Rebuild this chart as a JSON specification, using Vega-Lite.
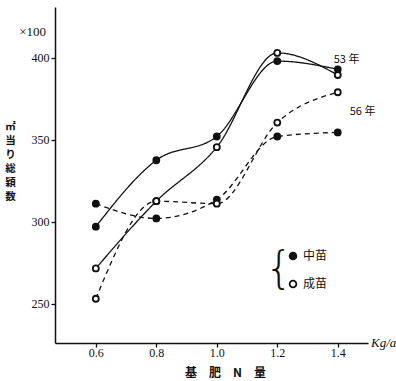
{
  "$schema": "https://vega.github.io/schema/vega-lite/v6.json",
  "width": 313,
  "height": 336,
  "autosize": {"type": "none"},
  "padding": {"left": 55, "top": 7, "right": 28, "bottom": 38},
  "background": "white",
  "config": {"view": {"stroke": null}, "font": "Liberation Serif"},
  "data": {
    "values": [
      {"N": 0.6, "v": 297, "year": "53 年", "type": "中苗", "series": "53中苗"},
      {"N": 0.8, "v": 337.5, "year": "53 年", "type": "中苗", "series": "53中苗"},
      {"N": 1.0, "v": 352, "year": "53 年", "type": "中苗", "series": "53中苗"},
      {"N": 1.2, "v": 398, "year": "53 年", "type": "中苗", "series": "53中苗"},
      {"N": 1.4, "v": 393, "year": "53 年", "type": "中苗", "series": "53中苗"},
      {"N": 0.6, "v": 271.5, "year": "53 年", "type": "成苗", "series": "53成苗"},
      {"N": 0.8, "v": 312.5, "year": "53 年", "type": "成苗", "series": "53成苗"},
      {"N": 1.0, "v": 345.5, "year": "53 年", "type": "成苗", "series": "53成苗"},
      {"N": 1.2, "v": 403, "year": "53 年", "type": "成苗", "series": "53成苗"},
      {"N": 1.4, "v": 389.5, "year": "53 年", "type": "成苗", "series": "53成苗"},
      {"N": 0.6, "v": 311, "year": "56 年", "type": "中苗", "series": "56中苗"},
      {"N": 0.8, "v": 302, "year": "56 年", "type": "中苗", "series": "56中苗"},
      {"N": 1.0, "v": 313.5, "year": "56 年", "type": "中苗", "series": "56中苗"},
      {"N": 1.2, "v": 352, "year": "56 年", "type": "中苗", "series": "56中苗"},
      {"N": 1.4, "v": 354.5, "year": "56 年", "type": "中苗", "series": "56中苗"},
      {"N": 0.6, "v": 253, "year": "56 年", "type": "成苗", "series": "56成苗"},
      {"N": 0.8, "v": 312.5, "year": "56 年", "type": "成苗", "series": "56成苗"},
      {"N": 1.0, "v": 311, "year": "56 年", "type": "成苗", "series": "56成苗"},
      {"N": 1.2, "v": 360.5, "year": "56 年", "type": "成苗", "series": "56成苗"},
      {"N": 1.4, "v": 379, "year": "56 年", "type": "成苗", "series": "56成苗"}
    ]
  },
  "encoding": {
    "x": {
      "field": "N",
      "type": "quantitative",
      "scale": {"domain": [0.465, 1.5], "nice": false, "zero": false},
      "axis": {
        "values": [0.6, 0.8, 1.0, 1.2, 1.4],
        "format": ".1f",
        "grid": false,
        "tickSize": 4,
        "labelPadding": 0,
        "domainColor": "#111",
        "domainWidth": 1.5,
        "tickColor": "#111",
        "tickWidth": 1.3,
        "labelFont": "Liberation Serif",
        "labelFontSize": 12,
        "labelColor": "#111",
        "title": "基　肥　N　量",
        "titleFont": "Noto Sans CJK JP",
        "titleFontSize": 12,
        "titleFontWeight": "bold",
        "titleColor": "#111",
        "titlePadding": 9,
        "titleX": 170,
        "titleAlign": "center"
      }
    },
    "y": {
      "field": "v",
      "type": "quantitative",
      "scale": {"domain": [226, 431], "nice": false, "zero": false},
      "axis": {
        "values": [250, 300, 350, 400],
        "format": "d",
        "grid": false,
        "tickSize": 4,
        "labelPadding": 2,
        "domainColor": "#111",
        "domainWidth": 1.5,
        "tickColor": "#111",
        "tickWidth": 1.3,
        "labelFont": "Liberation Serif",
        "labelFontSize": 12,
        "labelColor": "#111",
        "title": ["㎡", "当", "り", "総", "穎", "数"],
        "titleFont": "Noto Sans CJK JP",
        "titleFontSize": 10.5,
        "titleFontWeight": "bold",
        "titleColor": "#111",
        "titleAngle": 0,
        "titleAlign": "center",
        "titleBaseline": "top",
        "titleLineHeight": 14,
        "titleX": -45,
        "titleY": 114
      }
    }
  },
  "layer": [
    {
      "mark": {"type": "line", "interpolate": "monotone", "color": "#111", "strokeWidth": 1.3},
      "encoding": {
        "detail": {"field": "series"},
        "strokeDash": {
          "field": "year",
          "type": "nominal",
          "scale": {"domain": ["53 年", "56 年"], "range": [[1, 0], [5, 4]]},
          "legend": null
        }
      }
    },
    {
      "mark": {"type": "point", "shape": "circle", "filled": true, "stroke": "#111", "strokeWidth": 1.8, "size": 36, "opacity": 1},
      "encoding": {
        "fill": {
          "field": "type",
          "type": "nominal",
          "scale": {"domain": ["中苗", "成苗"], "range": ["#111", "#ffffff"]},
          "legend": {
            "orient": "none",
            "legendX": 210,
            "legendY": 243,
            "title": "{",
            "titleOrient": "left",
            "titleFont": "DejaVu Sans",
            "titleFontSize": 44,
            "titleFontWeight": 200,
            "titleColor": "#111",
            "titlePadding": -6,
            "labelFont": "Noto Sans CJK JP",
            "labelFontSize": 12,
            "labelColor": "#111",
            "symbolType": "circle",
            "symbolStrokeColor": "#111",
            "symbolStrokeWidth": 1.8,
            "symbolSize": 45,
            "rowPadding": 14
          }
        }
      }
    },
    {
      "transform": [{"filter": "datum.N == 1.4 && datum.series == '53中苗'"}],
      "mark": {"type": "text", "align": "left", "baseline": "middle", "dx": -4, "dy": -9, "font": "Noto Sans CJK JP", "fontSize": 11, "color": "#111"},
      "encoding": {"text": {"field": "year"}}
    },
    {
      "transform": [{"filter": "datum.N == 1.4 && datum.series == '56中苗'"}],
      "mark": {"type": "text", "align": "left", "baseline": "middle", "dx": 12, "dy": -20, "font": "Noto Sans CJK JP", "fontSize": 11, "color": "#111"},
      "encoding": {"text": {"field": "year"}}
    },
    {
      "transform": [{"filter": "datum.N == 0.6 && datum.series == '53中苗'"}],
      "mark": {"type": "text", "align": "right", "baseline": "middle", "dx": -9, "font": "Liberation Serif", "fontSize": 13, "color": "#111"},
      "encoding": {"x": {"datum": 0.465}, "y": {"datum": 416}, "text": {"value": "×100"}}
    },
    {
      "transform": [{"filter": "datum.N == 0.6 && datum.series == '53中苗'"}],
      "mark": {"type": "text", "align": "left", "baseline": "middle", "dx": 3, "font": "Liberation Serif", "fontStyle": "italic", "fontSize": 13, "color": "#111"},
      "encoding": {"x": {"datum": 1.5}, "y": {"datum": 226}, "text": {"value": "Kg/a"}}
    }
  ]
}
